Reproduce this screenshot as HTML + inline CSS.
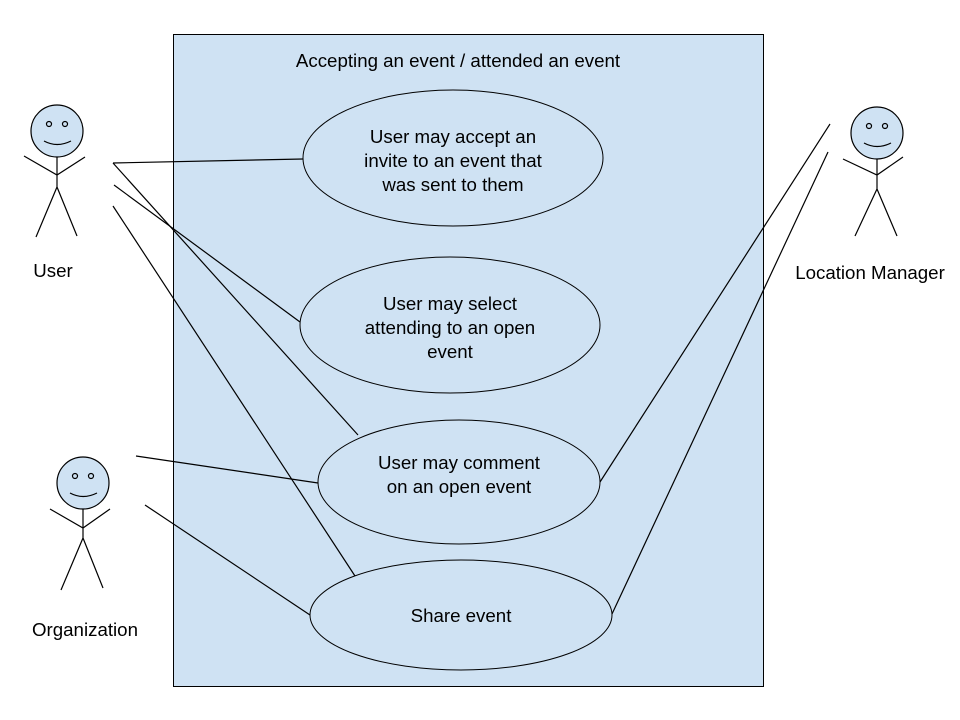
<!DOCTYPE html>
<html><head><meta charset="utf-8"><style>
html,body{margin:0;padding:0;background:#fff;width:960px;height:720px;overflow:hidden}
svg text{font-family:"Liberation Sans",Arial,sans-serif;font-size:18.7px;fill:#000}
</style></head><body>
<svg width="960" height="720" viewBox="0 0 960 720">
<rect x="173.5" y="34.5" width="590" height="652" fill="#cfe2f3" stroke="#000" stroke-width="1"/>
<text x="458" y="67" text-anchor="middle">Accepting an event / attended an event</text>
<g fill="#cfe2f3" stroke="#000" stroke-width="1">
<ellipse cx="453" cy="158" rx="150" ry="68"/>
<ellipse cx="450" cy="325" rx="150" ry="68"/>
<ellipse cx="459" cy="482" rx="141" ry="62"/>
<ellipse cx="461" cy="615" rx="151" ry="55"/>
</g>
<g stroke="#000" stroke-width="1.2" fill="none">
<line x1="113" y1="163" x2="303" y2="159"/>
<line x1="113" y1="163" x2="358" y2="435"/>
<line x1="114" y1="185" x2="300" y2="322"/>
<line x1="113" y1="206" x2="355" y2="576"/>
<line x1="136" y1="456" x2="318" y2="483"/>
<line x1="145" y1="505" x2="310" y2="615"/>
<line x1="830" y1="124" x2="600" y2="482"/>
<line x1="828" y1="152" x2="612" y2="614"/>
</g>
<g text-anchor="middle">
<text x="453" y="143">User may accept an</text>
<text x="453" y="167">invite to an event that</text>
<text x="453" y="191">was sent to them</text>
<text x="450" y="310">User may select</text>
<text x="450" y="334">attending to an open</text>
<text x="450" y="358">event</text>
<text x="459" y="469">User may comment</text>
<text x="459" y="493">on an open event</text>
<text x="461" y="622">Share event</text>
</g>
<g stroke="#000" stroke-width="1.2">
<g transform="translate(57,131)">
<circle r="26" fill="#cfe2f3"/>
<circle cx="-8" cy="-7" r="2.5" fill="none"/><circle cx="8" cy="-7" r="2.5" fill="none"/>
<path d="M-13 10 Q0 17 14 10" fill="none"/>
<path d="M0 26 V56 M-33 25 L0 44 L28 26 M-21 106 L0 56 L20 105" fill="none"/>
</g>
<g transform="translate(877,133)">
<circle r="26" fill="#cfe2f3"/>
<circle cx="-8" cy="-7" r="2.5" fill="none"/><circle cx="8" cy="-7" r="2.5" fill="none"/>
<path d="M-13 10 Q0 17 14 10" fill="none"/>
<path d="M0 26 V56 M-34 26 L0 42 L26 24 M-22 103 L0 56 L20 103" fill="none"/>
</g>
<g transform="translate(83,483)">
<circle r="26" fill="#cfe2f3"/>
<circle cx="-8" cy="-7" r="2.5" fill="none"/><circle cx="8" cy="-7" r="2.5" fill="none"/>
<path d="M-13 10 Q0 17 14 10" fill="none"/>
<path d="M0 26 V55 M-33 26 L0 45 L27 26 M-22 107 L0 55 L20 105" fill="none"/>
</g>
</g>
<text x="53" y="277" text-anchor="middle">User</text>
<text x="870" y="279" text-anchor="middle">Location Manager</text>
<text x="85" y="636" text-anchor="middle">Organization</text>
</svg>
</body></html>
